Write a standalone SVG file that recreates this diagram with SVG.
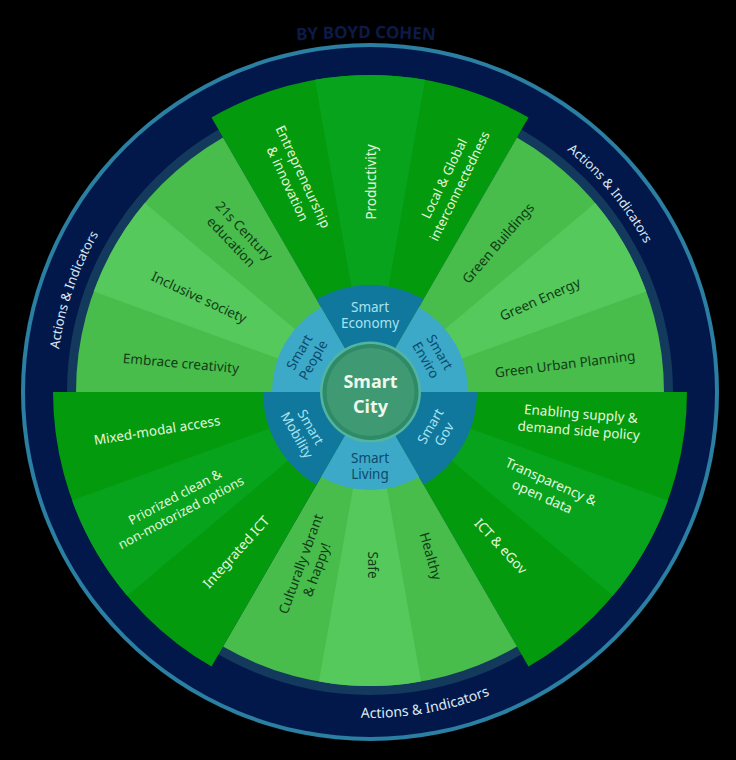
<svg xmlns="http://www.w3.org/2000/svg" width="736" height="760" viewBox="0 0 736 760">
<style>
text{font-family:"Noto Sans","Open Sans","Liberation Sans",sans-serif;font-size:13.5px;text-anchor:middle}
.w{fill:#e4f7df}.k{fill:#103c18}
.ai{fill:#dbe9f2;font-size:13px}
.hl{fill:#a9e2ef;font-size:13.5px}.hd{fill:#0c4a6c;font-size:13.5px}
.d1{fill:#049a0e}.d2{fill:#07a31c}
.l1{fill:#48bd4b}.l2{fill:#55c95b}
.hubd{fill:#0f789c}.hubl{fill:#3ca9c8}
</style>
<defs>
<path id="sd" d="M0 0L-158.5 -274.5A317 317 0 0 1 158.5 -274.5Z"/>
<path id="sl" d="M0 0L-147 -254.6A294 294 0 0 1 147 -254.6Z"/>
<path id="wd" d="M0 0L-55.05 -312.2A317 317 0 0 1 55.05 -312.2Z"/>
<path id="wl" d="M0 0L-51.05 -289.5A294 294 0 0 1 51.05 -289.5Z"/>
<path id="hd" d="M0 0L-53.5 -92.66A107 107 0 0 1 53.5 -92.66Z"/>
<path id="hl" d="M0 0L-49 -84.87A98 98 0 0 1 49 -84.87Z"/>
<path id="arcL" d="M76.9 504.5A314 314 0 0 1 208.3 122.8"/>
<path id="arcR" d="M424.2 84.7A312 312 0 0 1 682 392"/>
<path id="arcB" d="M207 674.3A326 326 0 0 0 619.7 601.5"/>
<path id="arcT" d="M266 43A1000 1000 0 0 1 466 43"/>
</defs>
<rect width="736" height="760" fill="#000"/>
<g id="title"><text font-weight="700" style="font-size:17px" fill="#0b1a47"><textPath href="#arcT" startOffset="50%">BY BOYD COHEN</textPath></text></g>
<g id="ring">
<circle cx="370" cy="392" r="349" fill="#2a7fa3"/>
<circle cx="370" cy="392" r="345" fill="#03184a"/>
<circle cx="370" cy="392" r="303" fill="#133a5c"/>
<text class="ai"><textPath href="#arcL" startOffset="50%">Actions &amp; Indicators</textPath></text>
<text class="ai"><textPath href="#arcR" startOffset="50.5%">Actions &amp; Indicators</textPath></text>
<text class="ai" style="font-size:14px"><textPath href="#arcB" startOffset="50%">Actions &amp; Indicators</textPath></text>
</g>
<g id="sector-economy">
<g transform="translate(370 392)"><use href="#sd" class="d1"/><use href="#wd" class="d2"/></g>
<text class="w" transform="translate(296 180) rotate(65)"><tspan x="0" y="-3">Entrepreneurship</tspan><tspan x="0" y="14">&amp; innovation</tspan></text>
<text class="w" transform="translate(371 182) rotate(-90)" y="5">Productivity</text>
<text class="w" transform="translate(451 182) rotate(-64)" style="font-size:13px"><tspan x="0" y="-3">Local &amp; Global</tspan><tspan x="0" y="14">interconnectedness</tspan></text>
</g>
<g id="sector-enviro">
<g transform="translate(370 392)"><use href="#sl" class="l1" transform="rotate(60)"/><use href="#wl" class="l2" transform="rotate(60)"/></g>
<text class="k" transform="translate(498 243) rotate(-49)" y="5">Green Buildings</text>
<text class="k" transform="translate(540 299) rotate(-24)" y="5">Green Energy</text>
<text class="k" transform="translate(565 364) rotate(-7)" y="5">Green Urban Planning</text>
</g>
<g id="sector-gov">
<g transform="translate(370 392)"><use href="#sd" class="d1" transform="rotate(120)"/><use href="#wd" class="d2" transform="rotate(120)"/></g>
<text class="w" transform="translate(581 414) rotate(4.5)"><tspan x="0" y="4.5">Enabling supply &amp;</tspan><tspan x="-1" y="21.5">demand side policy</tspan></text>
<text class="w" transform="translate(551 482) rotate(24)"><tspan x="0" y="4.5">Transparency &amp;</tspan><tspan x="-2" y="21.5">open data</tspan></text>
<text class="w" transform="translate(501 546) rotate(47)" y="5">ICT &amp; eGov</text>
</g>
<g id="sector-living">
<g transform="translate(370 392)"><use href="#sl" class="l1" transform="rotate(180)"/><use href="#wl" class="l2" transform="rotate(180)"/></g>
<text class="k" transform="translate(431 556) rotate(74)" y="5">Healthy</text>
<text class="k" transform="translate(373 565) rotate(90)" y="5">Safe</text>
<text class="k" transform="translate(301 564) rotate(-70)"><tspan x="0" y="4.5">Culturally vbrant</tspan><tspan x="0" y="21.5">&amp; happy!</tspan></text>
</g>
<g id="sector-mobility">
<g transform="translate(370 392)"><use href="#sd" class="d1" transform="rotate(240)"/><use href="#wd" class="d2" transform="rotate(240)"/></g>
<text class="w" transform="translate(236 552) rotate(-48)" y="5">Integrated ICT</text>
<text class="w" transform="translate(175 497) rotate(-28)" style="font-size:13px"><tspan x="0" y="4.5">Priorized clean &amp;</tspan><tspan x="-2" y="21">non-motorized options</tspan></text>
<text class="w" transform="translate(157 430) rotate(-9)" y="5">Mixed-modal access</text>
</g>
<g id="sector-people">
<g transform="translate(370 392)"><use href="#sl" class="l1" transform="rotate(300)"/><use href="#wl" class="l2" transform="rotate(300)"/></g>
<text class="k" transform="translate(181 363) rotate(5)" y="5">Embrace creativity</text>
<text class="k" transform="translate(199 297) rotate(25)" y="5">Inclusive society</text>
<text class="k" transform="translate(244 231) rotate(46.5)"><tspan x="0" y="4.5">21s Century</tspan><tspan x="-1" y="21.5">education</tspan></text>
</g>
<g id="hub-economy"><use href="#hd" class="hubd" transform="translate(370 392)"/><text class="hl"><tspan x="370" y="312">Smart</tspan><tspan x="370" y="328">Economy</tspan></text></g>
<g id="hub-enviro"><use href="#hl" class="hubl" transform="translate(370 392) rotate(60)"/><text class="hd" transform="translate(433 356) rotate(60)"><tspan x="0" y="-3">Smart</tspan><tspan x="0" y="13">Enviro</tspan></text></g>
<g id="hub-gov"><use href="#hd" class="hubd" transform="translate(370 392) rotate(120)"/><text class="hl" transform="translate(437 430) rotate(-60)"><tspan x="0" y="-3">Smart</tspan><tspan x="0" y="13">Gov</tspan></text></g>
<g id="hub-living"><use href="#hl" class="hubl" transform="translate(370 392) rotate(180)"/><text class="hd"><tspan x="370" y="463">Smart</tspan><tspan x="370" y="479">Living</tspan></text></g>
<g id="hub-mobility"><use href="#hd" class="hubd" transform="translate(370 392) rotate(240)"/><text class="hl" transform="translate(304 431) rotate(60)"><tspan x="0" y="-3">Smart</tspan><tspan x="0" y="13">Mobility</tspan></text></g>
<g id="hub-people"><use href="#hl" class="hubl" transform="translate(370 392) rotate(300)"/><text class="hd" transform="translate(306 356) rotate(-60)"><tspan x="0" y="-3">Smart</tspan><tspan x="0" y="13">People</tspan></text></g>
<g id="center">
<circle cx="370.5" cy="392" r="50.5" fill="#52b5a0"/>
<circle cx="370.5" cy="392" r="48" fill="#2f8a68"/>
<circle cx="370.5" cy="392" r="44" fill="#3f9a73"/>
<text fill="#eef8ee" font-weight="700" style="font-size:18px"><tspan x="370.5" y="388">Smart</tspan><tspan x="370.5" y="413">City</tspan></text>
</g>
</svg>
